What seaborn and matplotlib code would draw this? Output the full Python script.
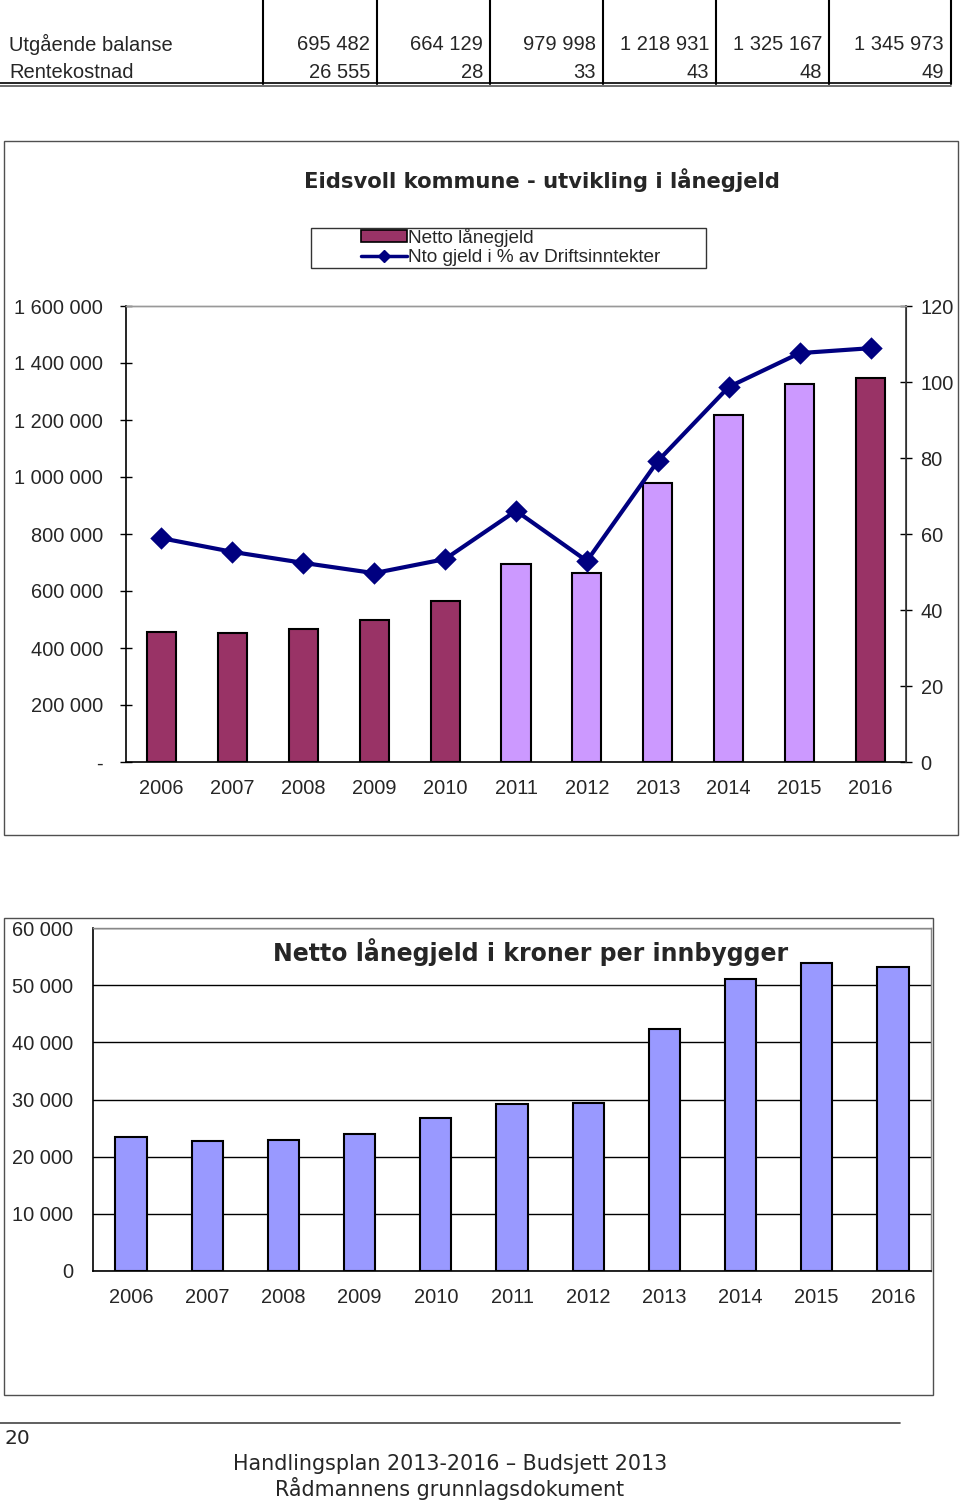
import numpy as np
import pandas as pd
import seaborn as sns
import matplotlib.pyplot as plt
from matplotlib.lines import Line2D
from matplotlib.patches import Rectangle, Patch
from matplotlib.ticker import FixedLocator

# Data
years = ['2006', '2007', '2008', '2009', '2010', '2011', '2012', '2013', '2014', '2015', '2016']
netto_gjeld = [456000, 452000, 466000, 498000, 566000, 695482, 664129, 979998, 1218931, 1325167, 1345973]
pct_drift = [58.9, 55.3, 52.4, 49.7, 53.4, 66.1, 52.9, 79.2, 98.7, 107.6, 108.9]
bar_colors = ['#993366'] * 5 + ['#CC99FF'] * 5 + ['#993366']
per_innbygger = [23400, 22700, 22900, 24000, 26800, 29200, 29400, 42300, 51100, 53900, 53200]

table_rows = ['Utgående balanse', 'Rentekostnad']
table_balanse = ['695 482', '664 129', '979 998', '1 218 931', '1 325 167', '1 345 973']
table_rente = ['26 555', '28', '33', '43', '48', '49']

left_ticks = [0, 200000, 400000, 600000, 800000, 1000000, 1200000, 1400000, 1600000]
right_ticks = [0, 20, 40, 60, 80, 100, 120]
per_ticks = [0, 10000, 20000, 30000, 40000, 50000, 60000]

df1 = pd.DataFrame({'year': years, 'netto': netto_gjeld, 'pct': pct_drift})
df2 = pd.DataFrame({'year': years, 'per': per_innbygger})

sns.set_style('white')
plt.rcParams['font.family'] = ['Liberation Sans', 'DejaVu Sans']

W, H = 960, 1503
fig = plt.figure(figsize=(9.6, 15.03), dpi=100)


def fx(x):
    return x / W


def fy(y):
    return 1 - y / H


def fmt(v):
    return f'{v:,}'.replace(',', ' ')


def hline(x0, x1, y, **kw):
    fig.add_artist(Line2D([fx(x0), fx(x1)], [fy(y), fy(y)], transform=fig.transFigure, **kw))


def vline(x, y0, y1, **kw):
    fig.add_artist(Line2D([fx(x), fx(x)], [fy(y0), fy(y1)], transform=fig.transFigure, **kw))


# Table at the top
cols = [263, 377, 490, 603, 716, 829, 951]
for c in cols:
    vline(c, 0, 84, color='black', lw=1.5)
hline(0, 951, 83, color='black', lw=1.2)
hline(0, 951, 85.5, color='#555555', lw=1.2)
fig.text(fx(9), fy(44), table_rows[0], fontsize=14.5, va='center', ha='left')
fig.text(fx(9), fy(72), table_rows[1], fontsize=14.5, va='center', ha='left')
for i in range(6):
    fig.text(fx(cols[i + 1] - 7), fy(44), table_balanse[i], fontsize=14.5, va='center', ha='right')
    fig.text(fx(cols[i + 1] - 7), fy(72), table_rente[i], fontsize=14.5, va='center', ha='right')

# Chart 1 frame
fig.add_artist(Rectangle((fx(4), fy(835)), fx(958) - fx(4), fy(141) - fy(835),
                         transform=fig.transFigure, fill=False, edgecolor='#505050', lw=1))

ax = fig.add_axes([fx(126), fy(762), fx(906) - fx(126), fy(306) - fy(762)])
sns.barplot(data=df1, x='year', y='netto', hue='year', palette=bar_colors, legend=False,
            width=0.41, edgecolor='black', linewidth=1.5, saturation=1, ax=ax)
ax2 = ax.twinx()
sns.pointplot(data=df1, x='year', y='pct', color='#000080', markers='D', linestyles='-',
              markersize=9, linewidth=3, errorbar=None, ax=ax2)

ax.set_xlim(-0.5, 10.5)
ax.set_ylim(0, 1600000)
ax2.set_ylim(0, 120)
ax.set_xlabel('')
ax.set_ylabel('')
ax2.set_xlabel('')
ax2.set_ylabel('')
ax.set_yticks(left_ticks)
ax.set_yticklabels(['-'] + [fmt(v) for v in left_ticks[1:]], fontsize=14.4)
ax2.set_yticks(right_ticks)
ax2.set_yticklabels([str(v) for v in right_ticks], fontsize=14.4)
ax.set_xticks(range(len(years)))
ax.set_xticklabels(years, fontsize=14.4)
ax.xaxis.set_minor_locator(FixedLocator(np.arange(-0.5, 11, 1)))
ax.tick_params(axis='x', which='major', length=0, pad=12)
ax.tick_params(axis='x', which='minor', length=6, width=1, color='black', direction='out')
ax.tick_params(axis='y', length=9, width=1, direction='inout', color='black', pad=12)
ax2.tick_params(axis='y', length=9, width=1, direction='inout', color='black', pad=6)
for s in ['left', 'bottom']:
    ax.spines[s].set_color('black')
    ax.spines[s].set_linewidth(1.2)
ax2.spines['right'].set_color('#333333')
ax2.spines['right'].set_linewidth(1.2)
for a in (ax, ax2):
    a.spines['top'].set_color('#999999')
    a.spines['top'].set_linewidth(1)
ax2.spines['left'].set_visible(False)
ax2.spines['bottom'].set_visible(False)
ax.grid(False)
ax2.grid(False)

fig.text(fx(542), fy(180), 'Eidsvoll kommune - utvikling i lånegjeld', fontsize=15.2,
         family='DejaVu Sans', fontweight='bold', ha='center', va='center')

# Legend box
fig.add_artist(Rectangle((fx(311), fy(268)), fx(706) - fx(311), fy(228) - fy(268),
                         transform=fig.transFigure, fill=False, edgecolor='#333333', lw=1))
handles = [Patch(facecolor='#993366', edgecolor='black', linewidth=1.2),
           Line2D([0], [0], color='#000080', lw=2.5, marker='D', markersize=6)]
fig.legend(handles, ['Netto lånegjeld', 'Nto gjeld i % av Driftsinntekter'], loc='upper left',
           bbox_to_anchor=(fx(358), fy(225)), frameon=False, fontsize=13.7, handlelength=2.4,
           handleheight=0.6, handletextpad=0.1, labelspacing=0.12, borderpad=0.15, borderaxespad=0)

# Chart 2 frame
fig.add_artist(Rectangle((fx(4), fy(1395)), fx(933) - fx(4), fy(918) - fy(1395),
                         transform=fig.transFigure, fill=False, edgecolor='#505050', lw=1))

bx = fig.add_axes([fx(93), fy(1271), fx(931) - fx(93), fy(928) - fy(1271)])
sns.barplot(data=df2, x='year', y='per', color='#9999FF', width=0.41, edgecolor='black',
            linewidth=1.5, saturation=1, ax=bx, zorder=3)
bx.set_xlim(-0.5, 10.5)
bx.set_ylim(0, 60000)
bx.set_xlabel('')
bx.set_ylabel('')
bx.set_yticks(per_ticks)
bx.set_yticklabels([fmt(v) for v in per_ticks], fontsize=14.4)
bx.set_xticks(range(len(years)))
bx.set_xticklabels(years, fontsize=14.4)
bx.xaxis.set_minor_locator(FixedLocator(np.arange(-0.5, 11, 1)))
bx.tick_params(axis='x', which='major', length=0, pad=12)
bx.tick_params(axis='x', which='minor', length=6, width=1, color='black', direction='out')
bx.tick_params(axis='y', length=5, width=1, direction='out', color='black', pad=9)
bx.grid(True, axis='y', color='black', lw=1)
bx.set_axisbelow(True)
for s in ['left', 'bottom']:
    bx.spines[s].set_color('black')
    bx.spines[s].set_linewidth(1.2)
for s in ['top', 'right']:
    bx.spines[s].set_color('#888888')
    bx.spines[s].set_linewidth(1)
fig.text(fx(531), fy(952), 'Netto lånegjeld i kroner per innbygger', fontsize=17,
         family='DejaVu Sans', fontweight='bold', ha='center', va='center')

# Footer
hline(0, 900, 1423, color='#444444', lw=1.2)
fig.text(fx(5), fy(1438), '20', fontsize=14.5, family='DejaVu Sans', ha='left', va='center')
fig.text(fx(450), fy(1464), 'Handlingsplan 2013-2016 – Budsjett 2013', fontsize=14.9,
         family='DejaVu Sans', ha='center', va='center')
fig.text(fx(450), fy(1489), 'Rådmannens grunnlagsdokument', fontsize=14.9,
         family='DejaVu Sans', ha='center', va='center')

fig.savefig('out.png', dpi=100)
